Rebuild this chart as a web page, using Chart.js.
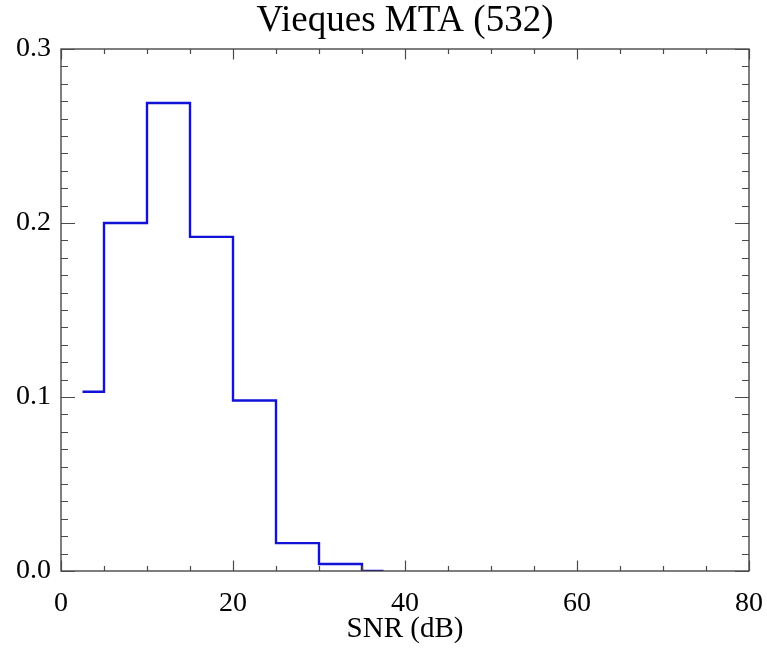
<!DOCTYPE html>
<html>
<head>
<meta charset="utf-8">
<script src="https://cdn.jsdelivr.net/npm/chart.js@4/dist/chart.umd.min.js"></script>
<style>
  html, body { margin: 0; padding: 0; background: #fff; }
  #wrap { width: 767px; height: 650px; position: relative; }
</style>
</head>
<body>
<div id="wrap"><canvas id="snr"></canvas></div>
<script>
// histogram of SNR, bin centres in dB (5 dB bins)
const binCenters = [2.5, 7.5, 12.5, 17.5, 22.5, 27.5, 32.5, 37.5]
const frequency = [0.103, 0.200, 0.269, 0.192, 0.098, 0.016, 0.004, 0.0]

const xMajorTicks = [0, 20, 40, 60, 80]
const xTickLabels = ['0', '20', '40', '60', '80']
const xMinorStep = 5
const yMajorTicks = [0, 0.1, 0.2, 0.3]
const yTickLabels = ['0.0', '0.1', '0.2', '0.3']
const yMinorStep = 0.01

const titleText = 'Vieques MTA (532)'
const serif = '"Liberation Serif", "DejaVu Serif", serif'

// IDL-style frame with inward ticks on all four sides, title centred on the plot
const frameTicks = {
  id: 'frameTicks',
  afterDraw (chart) {
    const { ctx, chartArea: a, scales } = chart
    const xs = scales.x, ys = scales.y
    ctx.save()
    ctx.strokeStyle = '#3a3a3a'
    ctx.lineWidth = 1.3
    ctx.strokeRect(a.left, a.top, a.right - a.left, a.bottom - a.top)
    ctx.strokeStyle = '#4a4a4a'
    ctx.lineWidth = 1.2
    ctx.beginPath()
    for (let v = xs.min; v <= xs.max + 1e-9; v += xMinorStep) {
      const px = Math.round(xs.getPixelForValue(v)) + 0.5
      const major = xMajorTicks.some(t => Math.abs(t - v) < 1e-6)
      const len = major ? 10.5 : 5
      ctx.moveTo(px, a.bottom); ctx.lineTo(px, a.bottom - len)
      ctx.moveTo(px, a.top); ctx.lineTo(px, a.top + len)
    }
    for (let i = 0; i * yMinorStep <= ys.max + 1e-9; i++) {
      const py = Math.round(ys.getPixelForValue(i * yMinorStep)) + 0.5
      const len = i % 10 === 0 ? 14 : 7
      ctx.moveTo(a.left, py); ctx.lineTo(a.left + len, py)
      ctx.moveTo(a.right, py); ctx.lineTo(a.right - len, py)
    }
    ctx.stroke()

    ctx.fillStyle = '#000'
    ctx.font = '37px ' + serif
    ctx.textAlign = 'center'
    ctx.textBaseline = 'alphabetic'
    ctx.fillText(titleText, (a.left + a.right) / 2, 31)
    ctx.restore()
  }
}

new Chart(document.getElementById('snr'), {
  type: 'line',
  data: {
    datasets: [{
      label: titleText,
      data: binCenters.map((x, i) => ({ x, y: frequency[i] })),
      stepped: 'middle',
      borderColor: '#1212d6',
      borderWidth: 2.4,
      pointRadius: 0,
      fill: false
    }]
  },
  options: {
    responsive: true,
    maintainAspectRatio: false,
    animation: false,
    layout: { padding: { left: 0, right: 18, top: 49, bottom: 0 } },
    plugins: {
      legend: { display: false },
      tooltip: { enabled: false },
      title: { display: false }
    },
    scales: {
      x: {
        type: 'linear',
        min: 0,
        max: 80,
        grid: { display: false, drawTicks: false },
        border: { display: false },
        afterBuildTicks: s => { s.ticks = xMajorTicks.map(v => ({ value: v })) },
        afterFit: s => { s.height = 79; s.paddingLeft = 0; s.paddingRight = 0 },
        ticks: {
          color: '#000',
          padding: 16,
          maxRotation: 0,
          font: { family: serif, size: 28 },
          callback: v => xTickLabels[xMajorTicks.indexOf(v)]
        },
        title: {
          display: true,
          text: 'SNR (dB)',
          color: '#000',
          font: { family: serif, size: 29 },
          padding: { top: 0, bottom: 3 }
        }
      },
      y: {
        min: 0,
        max: 0.3,
        grid: { display: false, drawTicks: false },
        border: { display: false },
        afterBuildTicks: s => { s.ticks = yMajorTicks.map(v => ({ value: v })) },
        afterFit: s => { s.width = 61; s.paddingTop = 0; s.paddingBottom = 0 },
        ticks: {
          color: '#000',
          padding: 10,
          font: { family: serif, size: 28 },
          callback: v => yTickLabels[yMajorTicks.findIndex(t => Math.abs(t - v) < 1e-6)]
        }
      }
    }
  },
  plugins: [frameTicks]
})
</script>
</body>
</html>
